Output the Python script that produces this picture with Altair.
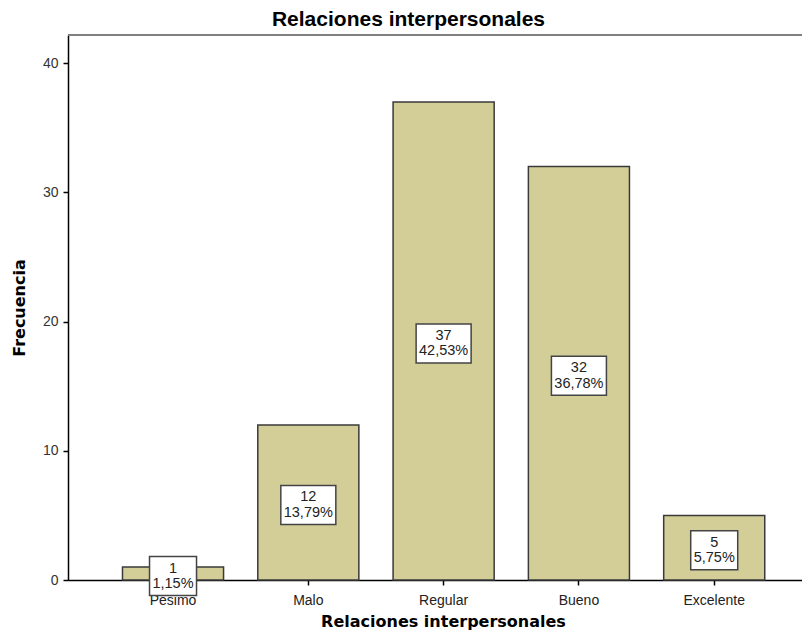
import altair as alt
import pandas as pd

categories = ["Pésimo", "Malo", "Regular", "Bueno", "Excelente"]
counts = [1, 12, 37, 32, 5]
percents = ["1,15%", "13,79%", "42,53%", "36,78%", "5,75%"]

YMAX = 42.18

df = pd.DataFrame({"cat": categories, "count": counts, "pct": percents})

X = alt.X(
    "cat:N",
    sort=categories,
    scale=alt.Scale(paddingInner=0.253, paddingOuter=0.339, align=0.594),
    axis=alt.Axis(
        title="Relaciones interpersonales",
        labelAngle=0,
        tickSize=5,
        tickColor="black",
        tickWidth=1.5,
        domainColor="black",
        domainWidth=1.5,
        labelFont="Liberation Sans",
        labelFontSize=14,
        labelColor="#222",
        labelBaseline="alphabetic",
        labelPadding=19,
        titleFont="DejaVu Sans",
        titleFontSize=16,
        titleFontWeight="bold",
        titleColor="black",
        titleX=375,
        titleY=46.5,
        titleAlign="center",
        titleBaseline="alphabetic",
    ),
)

Y = alt.Y(
    "count:Q",
    scale=alt.Scale(domain=[0, YMAX], nice=False, zero=True),
    axis=alt.Axis(
        title="Frecuencia",
        values=[0, 10, 20, 30, 40],
        grid=False,
        tickSize=5,
        tickColor="black",
        tickWidth=1.5,
        domainColor="black",
        domainWidth=1.5,
        labelFont="Liberation Sans",
        labelFontSize=14,
        labelColor="#333",
        labelPadding=5,
        titleFont="DejaVu Sans",
        titleFontSize=16,
        titleFontWeight="bold",
        titleColor="black",
        titleAngle=270,
        titleX=-49,
        titleY=272.5,
        titleAlign="center",
        titleBaseline="middle",
    ),
)

base = alt.Chart(df)

bars = base.mark_bar(fill="#D3CE97", stroke="#3a3a3a", strokeWidth=1.5).encode(x=X, y=Y)

box_layers = []
for n_chars, w in [(6, 55), (5, 47)]:
    box_layers.append(
        base.transform_filter(f"length(datum.pct) == {n_chars}")
        .transform_calculate(mid="datum.count / 2")
        .mark_bar(width=w, fill="white", stroke="#444", strokeWidth=1.5,
                  yOffset=-17, y2Offset=22)
        .encode(x=X, y=alt.Y("mid:Q"), y2=alt.Y2("mid:Q"))
    )

labels = (
    base.transform_calculate(mid="datum.count / 2",
                             label="datum.count + '\\n' + datum.pct")
    .mark_text(lineBreak="\n", font="Liberation Sans", fontSize=14.5,
               lineHeight=15.5, baseline="middle", dy=-5, color="#222")
    .encode(x=X, y=alt.Y("mid:Q"), text="label:N")
)

top_rule = alt.Chart(pd.DataFrame({"y": [YMAX]})).mark_rule(
    color="#808080", strokeWidth=2
).encode(y=alt.Y("y:Q"))

chart = (
    alt.layer(bars, *box_layers, labels, top_rule)
    .properties(
        width=734,
        height=545,
        autosize=alt.AutoSizeParams(type="none"),
        padding={"left": 60, "top": 27, "right": 0, "bottom": 51},
        title=alt.TitleParams(
            "Relaciones interpersonales",
            font="Liberation Sans",
            fontSize=21,
            fontWeight="bold",
            color="black",
            anchor="middle",
            frame="group",
            dx=-26.5,
            dy=21,
            offset=8,
            baseline="alphabetic",
        ),
    )
    .configure_view(fill="#F0F0F0", stroke="transparent")
    .configure(background="white")
)

chart.save("out.html", embed_options={"renderer": "svg", "actions": False})
